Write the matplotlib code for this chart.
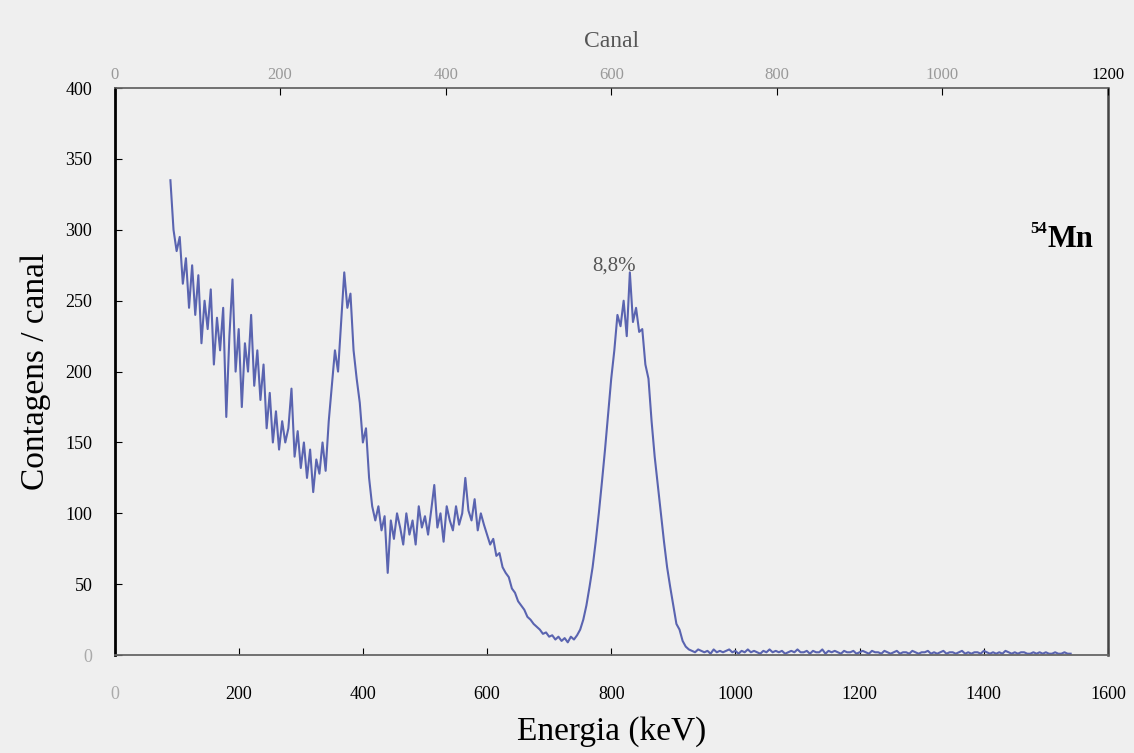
import numpy as np
import matplotlib.pyplot as plt

# energy grid (keV) and counts per channel
energy_start, energy_step = 90, 5
counts_main = [
    335, 300, 285, 295, 262, 280, 245, 275, 240, 268,   # 90-135
    220, 250, 230, 258, 205, 238, 215, 245, 168, 225,   # 140-185
    265, 200, 230, 175, 220, 200, 240, 190, 215, 180,   # 190-235
    205, 160, 185, 150, 172, 145, 165, 150, 160, 188,   # 240-285
    140, 158, 132, 150, 125, 145, 115, 138, 128, 150,   # 290-335
    130, 165, 190, 215, 200, 235, 270, 245, 255, 215,   # 340-385
    195, 178, 150, 160, 125, 105, 95, 105, 88, 98,      # 390-435
    58, 95, 82, 100, 90, 78, 100, 85, 95, 78,           # 440-485
    105, 90, 98, 85, 102, 120, 90, 100, 80, 105,        # 490-535
    95, 88, 105, 92, 100, 125, 102, 95, 110, 88,        # 540-585
    100, 92, 85, 78, 82, 70, 72, 62, 58, 55,            # 590-635
    47, 44, 38, 35, 32, 27, 25, 22, 20, 18,             # 640-685
    15, 16, 13, 14, 11, 13, 10, 12, 9, 13,              # 690-735
    11, 14, 18, 25, 35, 48, 62, 80, 100, 122,           # 740-785
    145, 170, 195, 215, 240, 232, 250, 225, 270, 235,   # 790-835
    245, 228, 230, 205, 195, 165, 140, 120, 100, 80,    # 840-885
    62, 48, 35, 22, 18, 10, 6,                          # 890-920
]
counts_tail = [
    4, 3, 2, 4, 3, 2, 3, 1, 4, 2, 3, 2, 3, 4, 2, 3, 1, 3, 2, 4,
    2, 3, 2, 1, 3, 2, 4, 2, 3, 2, 3, 1, 2, 3, 2, 4, 2, 2, 3, 1,
    3, 2, 2, 4, 1, 3, 2, 3, 2, 1, 3, 2, 2, 3, 1, 2, 3, 2, 1, 3,
    2, 2, 1, 3, 2, 1, 2, 3, 1, 2, 2, 1, 3, 2, 1, 2, 2, 3, 1, 2,
    1, 2, 3, 1, 2, 2, 1, 2, 3, 1, 2, 1, 2, 2, 1, 3, 2, 1, 2, 1,
    2, 1, 3, 2, 1, 2, 1, 2, 2, 1, 1, 2, 1, 2, 1, 2, 1, 1, 2, 1,
    1, 2, 1, 1,
]
counts = np.array(counts_main + counts_tail)
energy = energy_start + energy_step * np.arange(len(counts))

x_ticks = [0, 200, 400, 600, 800, 1000, 1200, 1400, 1600]
y_ticks = [0, 50, 100, 150, 200, 250, 300, 350, 400]
canal_ticks = [0, 200, 400, 600, 800, 1000, 1200]

bg = '#efefef'
plt.rcParams['font.family'] = ['Liberation Serif', 'DejaVu Serif']

fig = plt.figure(figsize=(11.34, 7.53), dpi=100, facecolor=bg)
ax = fig.add_axes([0.101, 0.130, 0.876, 0.753], facecolor=bg)

ax.plot(energy, counts, color='#5a64b0', linewidth=1.5)

ax.set_xlim(0, 1600)
ax.set_ylim(0, 400)
ax.set_xticks(x_ticks)
ax.set_yticks(y_ticks)
ax.tick_params(axis='x', direction='in', length=5, pad=22, labelsize=13)
ax.tick_params(axis='y', direction='in', length=5, pad=16, labelsize=13)
ax.xaxis.get_ticklabels()[0].set_color('#aaaaaa')
ax.yaxis.get_ticklabels()[0].set_color('#aaaaaa')

ax.spines['left'].set_linewidth(2.0)
ax.spines['left'].set_color('black')
for side in ['top', 'bottom']:
    ax.spines[side].set_color('#666666')
    ax.spines[side].set_linewidth(1.3)
ax.spines['right'].set_color('#444444')
ax.spines['right'].set_linewidth(1.8)

ax.set_xlabel('Energia (keV)', fontsize=24, labelpad=10)
ax.set_ylabel('Contagens / canal', fontsize=24, labelpad=10)

# channel axis on top
top = ax.twiny()
top.set_xlim(0, 1200)
top.set_xticks(canal_ticks)
top.tick_params(axis='x', direction='in', length=5, pad=4, labelsize=12)
for lbl in top.xaxis.get_ticklabels()[:-1]:
    lbl.set_color('#999999')
top.set_xlabel('Canal', fontsize=17, color='#555555', labelpad=14)
for side in top.spines:
    top.spines[side].set_visible(False)

ax.text(805, 268, '8,8%', fontsize=15, color='#555555', ha='center', va='bottom')
ax.text(0.985, 0.72, 'Mn', transform=ax.transAxes, fontsize=22,
        fontweight='bold', ha='right', va='baseline')
ax.text(0.939, 0.745, '54', transform=ax.transAxes, fontsize=12,
        fontweight='bold', ha='right', va='baseline')

fig.savefig('out.png', dpi=100, facecolor=bg)
